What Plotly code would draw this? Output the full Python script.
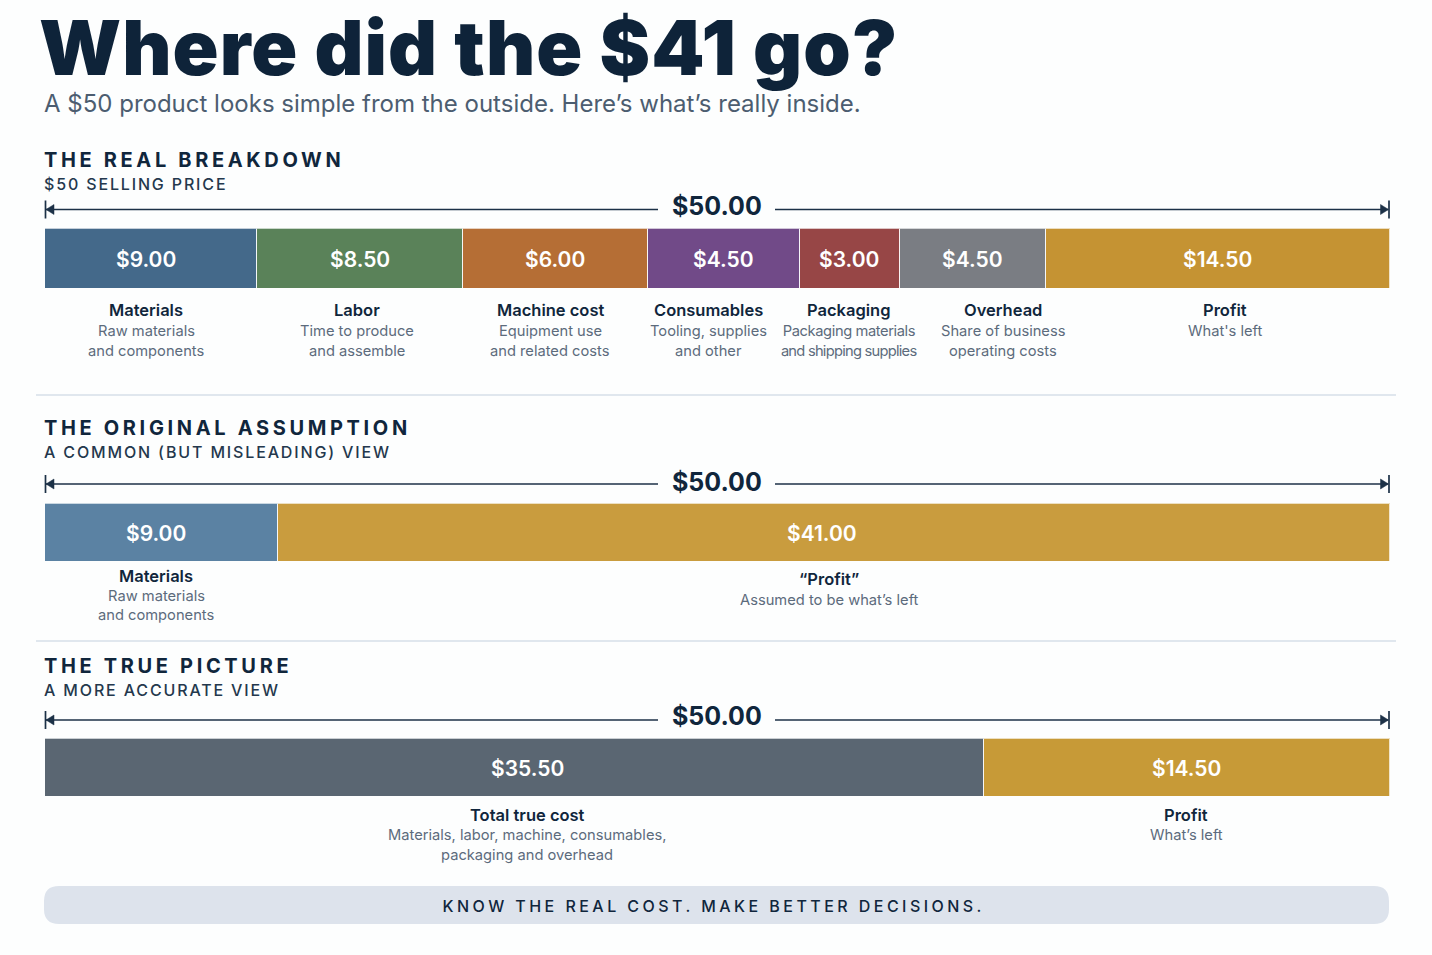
import plotly.graph_objects as go

W, H = 1432, 955
FONT = "Inter"
NAVY = "#10263c"
GREY = "#5c6b7c"

# Dollar amounts as printed on the segments
breakdown_values = [9.00, 8.50, 6.00, 4.50, 3.00, 4.50, 14.50]
assumption_values = [9.00, 41.00]
true_values = [35.50, 14.50]
# Segment lengths as drawn in the picture, on the $0-$50 scale
breakdown_spans = [7.89, 7.66, 6.85, 5.65, 3.72, 5.43, 12.80]
assumption_spans = [8.67, 41.33]
true_spans = [34.90, 15.10]

breakdown_names = ["Materials", "Labor", "Machine cost", "Consumables", "Packaging", "Overhead", "Profit"]
breakdown_line1 = ["Raw materials", "Time to produce", "Equipment use", "Tooling, supplies",
                   "Packaging materials", "Share of business", "What's left"]
breakdown_line2 = ["and components", "and assemble", "and related costs", "and other",
                   "and shipping supplies", "operating costs", ""]
assumption_names = ["Materials", "“Profit”"]
assumption_line1 = ["Raw materials", "Assumed to be what’s left"]
assumption_line2 = ["and components", ""]
true_names = ["Total true cost", "Profit"]
true_line1 = ["Materials, labor, machine, consumables,", "What’s left"]
true_line2 = ["packaging and overhead", ""]

breakdown_colors = ["#44698a", "#5a8259", "#b56e35", "#714a88", "#974646", "#7a7d83", "#c59333"]
assumption_colors = ["#5b82a3", "#c99c3e"]
true_colors = ["#5a6672", "#c79a37"]


def px(x):
    return x / W


def py(y):
    return 1 - y / H


fig = go.Figure()


def add_row(values, spans, colors, axis):
    for value, span, color in zip(values, spans, colors):
        fig.add_trace(go.Bar(
            x=[span], y=["row"], orientation="h", yaxis=axis, xaxis="x",
            marker=dict(color=color, line=dict(color="rgba(255,255,255,0.75)", width=1)),
            name=f"${value:.2f}", showlegend=False,
            hovertemplate=f"${value:.2f}<extra></extra>",
        ))


add_row(breakdown_values, breakdown_spans, breakdown_colors, "y")
add_row(assumption_values, assumption_spans, assumption_colors, "y2")
add_row(true_values, true_spans, true_colors, "y3")

annotations = []


def text(x, y, s, size, color=NAVY, weight=400, anchor="center"):
    if not s:
        return
    annotations.append(dict(
        x=px(x), y=py(y), xref="paper", yref="paper", text=s, showarrow=False,
        xanchor=anchor, yanchor="middle", align=anchor,
        font=dict(family=FONT, size=size, color=color, weight=weight),
    ))


# Title block
text(37, 46.5, "Where did the $41 go?", 76, "#0e2339", 900, "left")
text(42, 103, "A $50 product looks simple from the outside. Here’s what’s really inside.", 24, "#4c5d70", 400, "left")

# Section headings
for y, s in [(160, "THE REAL BREAKDOWN"), (428, "THE ORIGINAL ASSUMPTION"), (666, "THE TRUE PICTURE")]:
    text(42, y, s, 20, NAVY, 700, "left")
for y, s in [(184, "$50 SELLING PRICE"), (452, "A COMMON (BUT MISLEADING) VIEW"), (690, "A MORE ACCURATE VIEW")]:
    text(42, y, s, 16, "#24384d", 500, "left")

# Dimension lines
shapes = []
LINE = "#1c3147"


def seg(x0, y0, x1, y1, color=LINE, width=1.7):
    shapes.append(dict(type="line", xref="paper", yref="paper", x0=px(x0), y0=py(y0), x1=px(x1), y1=py(y1),
                       line=dict(color=color, width=width)))


def tri(points):
    path = "M " + " L ".join(f"{px(a):.5f} {py(b):.5f}" for a, b in points) + " Z"
    shapes.append(dict(type="path", xref="paper", yref="paper", path=path,
                       fillcolor=LINE, line=dict(color=LINE, width=0.5)))


for y, ty in [(209.5, 206), (484, 482), (720, 715.5)]:
    seg(46, y, 658, y)
    seg(775, y, 1388, y)
    seg(45.5, y - 9, 45.5, y + 9)
    seg(1389, y - 9, 1389, y + 9)
    tri([(46, y), (54, y - 5), (54, y + 5)])
    tri([(1388.5, y), (1380.5, y - 5), (1380.5, y + 5)])
    text(716.5, ty, "$50.00", 25, NAVY, 700)

# Rules and footer
seg(36, 395, 1396, 395, "#d6dfe9", 1.6)
seg(36, 641, 1396, 641, "#d6dfe9", 1.6)


def rounded(x0, y0, x1, y1, r):
    P = lambda a, b: f"{px(a):.5f} {py(b):.5f}"
    return (f"M {P(x0 + r, y0)} L {P(x1 - r, y0)} Q {P(x1, y0)} {P(x1, y0 + r)} "
            f"L {P(x1, y1 - r)} Q {P(x1, y1)} {P(x1 - r, y1)} L {P(x0 + r, y1)} "
            f"Q {P(x0, y1)} {P(x0, y1 - r)} L {P(x0, y0 + r)} Q {P(x0, y0)} {P(x0 + r, y0)} Z")


shapes.append(dict(type="path", xref="paper", yref="paper", path=rounded(44, 886, 1389, 924, 15),
                   fillcolor="#dde3ec", line=dict(width=0), layer="below"))
text(713, 905.5, "KNOW THE REAL COST. MAKE BETTER DECISIONS.", 16, NAVY, 500)


# Labels: centre positions of printed amounts and captions
def labels(values, val_x, val_y, names, lines1, lines2, cap_x, cap_y):
    for v, x in zip(values, val_x):
        text(x, val_y, f"${v:.2f}", 21, "#ffffff", 600)
    for n, a, b, x, (y0, y1, y2) in zip(names, lines1, lines2, cap_x, cap_y):
        text(x, y0, n, 16.5, NAVY, 600)
        text(x, y1, a, 14.7, GREY)
        text(x, y2, b, 14.7, GREY)


labels(breakdown_values, [146, 360, 555, 723, 849, 972, 1217], 259.5,
       breakdown_names, breakdown_line1, breakdown_line2,
       [146, 357, 550, 708, 849, 1003, 1225], [(310, 331, 351)] * 7)
labels(assumption_values, [156, 822], 533.5,
       assumption_names, assumption_line1, assumption_line2,
       [156, 829], [(576, 595.5, 615), (579, 599.5, 619)])
labels(true_values, [527, 1186], 768.5,
       true_names, true_line1, true_line2, [527, 1186], [(815, 835, 855)] * 2)

hidden = dict(visible=False, fixedrange=True)
fig.update_layout(
    width=W, height=H, margin=dict(l=0, r=0, t=0, b=0),
    paper_bgcolor="#fdfefe", plot_bgcolor="rgba(0,0,0,0)",
    barmode="stack", bargap=0, showlegend=False,
    xaxis=dict(domain=[px(45), px(1390)], range=[0, 50], **hidden),
    yaxis=dict(domain=[py(288.5), py(228.5)], range=[-0.5, 0.5], anchor="x", **hidden),
    yaxis2=dict(domain=[py(561), py(503.5)], range=[-0.5, 0.5], anchor="x", **hidden),
    yaxis3=dict(domain=[py(796), py(738.5)], range=[-0.5, 0.5], anchor="x", **hidden),
    annotations=annotations, shapes=shapes,
)

SPACING_JS = """
document.body.style.margin = '0';
document.documentElement.style.overflow = 'hidden';
function applySpacing() {
  var rules = [
    [/^Where did/, '1px'],
    [/^THE (REAL|ORIGINAL|TRUE)/, '3.65px'],
    [/^(\\$50 SELLING|A COMMON|A MORE)/, '1.85px'],
    [/^KNOW THE/, '3.45px'],
    [/^Packaging materials/, '-0.4px'],
    [/^and shipping supplies/, '-0.75px']
  ];
  document.querySelectorAll('.annotation-text').forEach(function (t) {
    rules.forEach(function (r) {
      if (r[0].test(t.textContent)) { t.style.letterSpacing = r[1]; }
    });
  });
}
applySpacing();
setTimeout(applySpacing, 0);
setTimeout(applySpacing, 200);
"""

fig.write_html("out.html", post_script=SPACING_JS, config=dict(displayModeBar=False))
